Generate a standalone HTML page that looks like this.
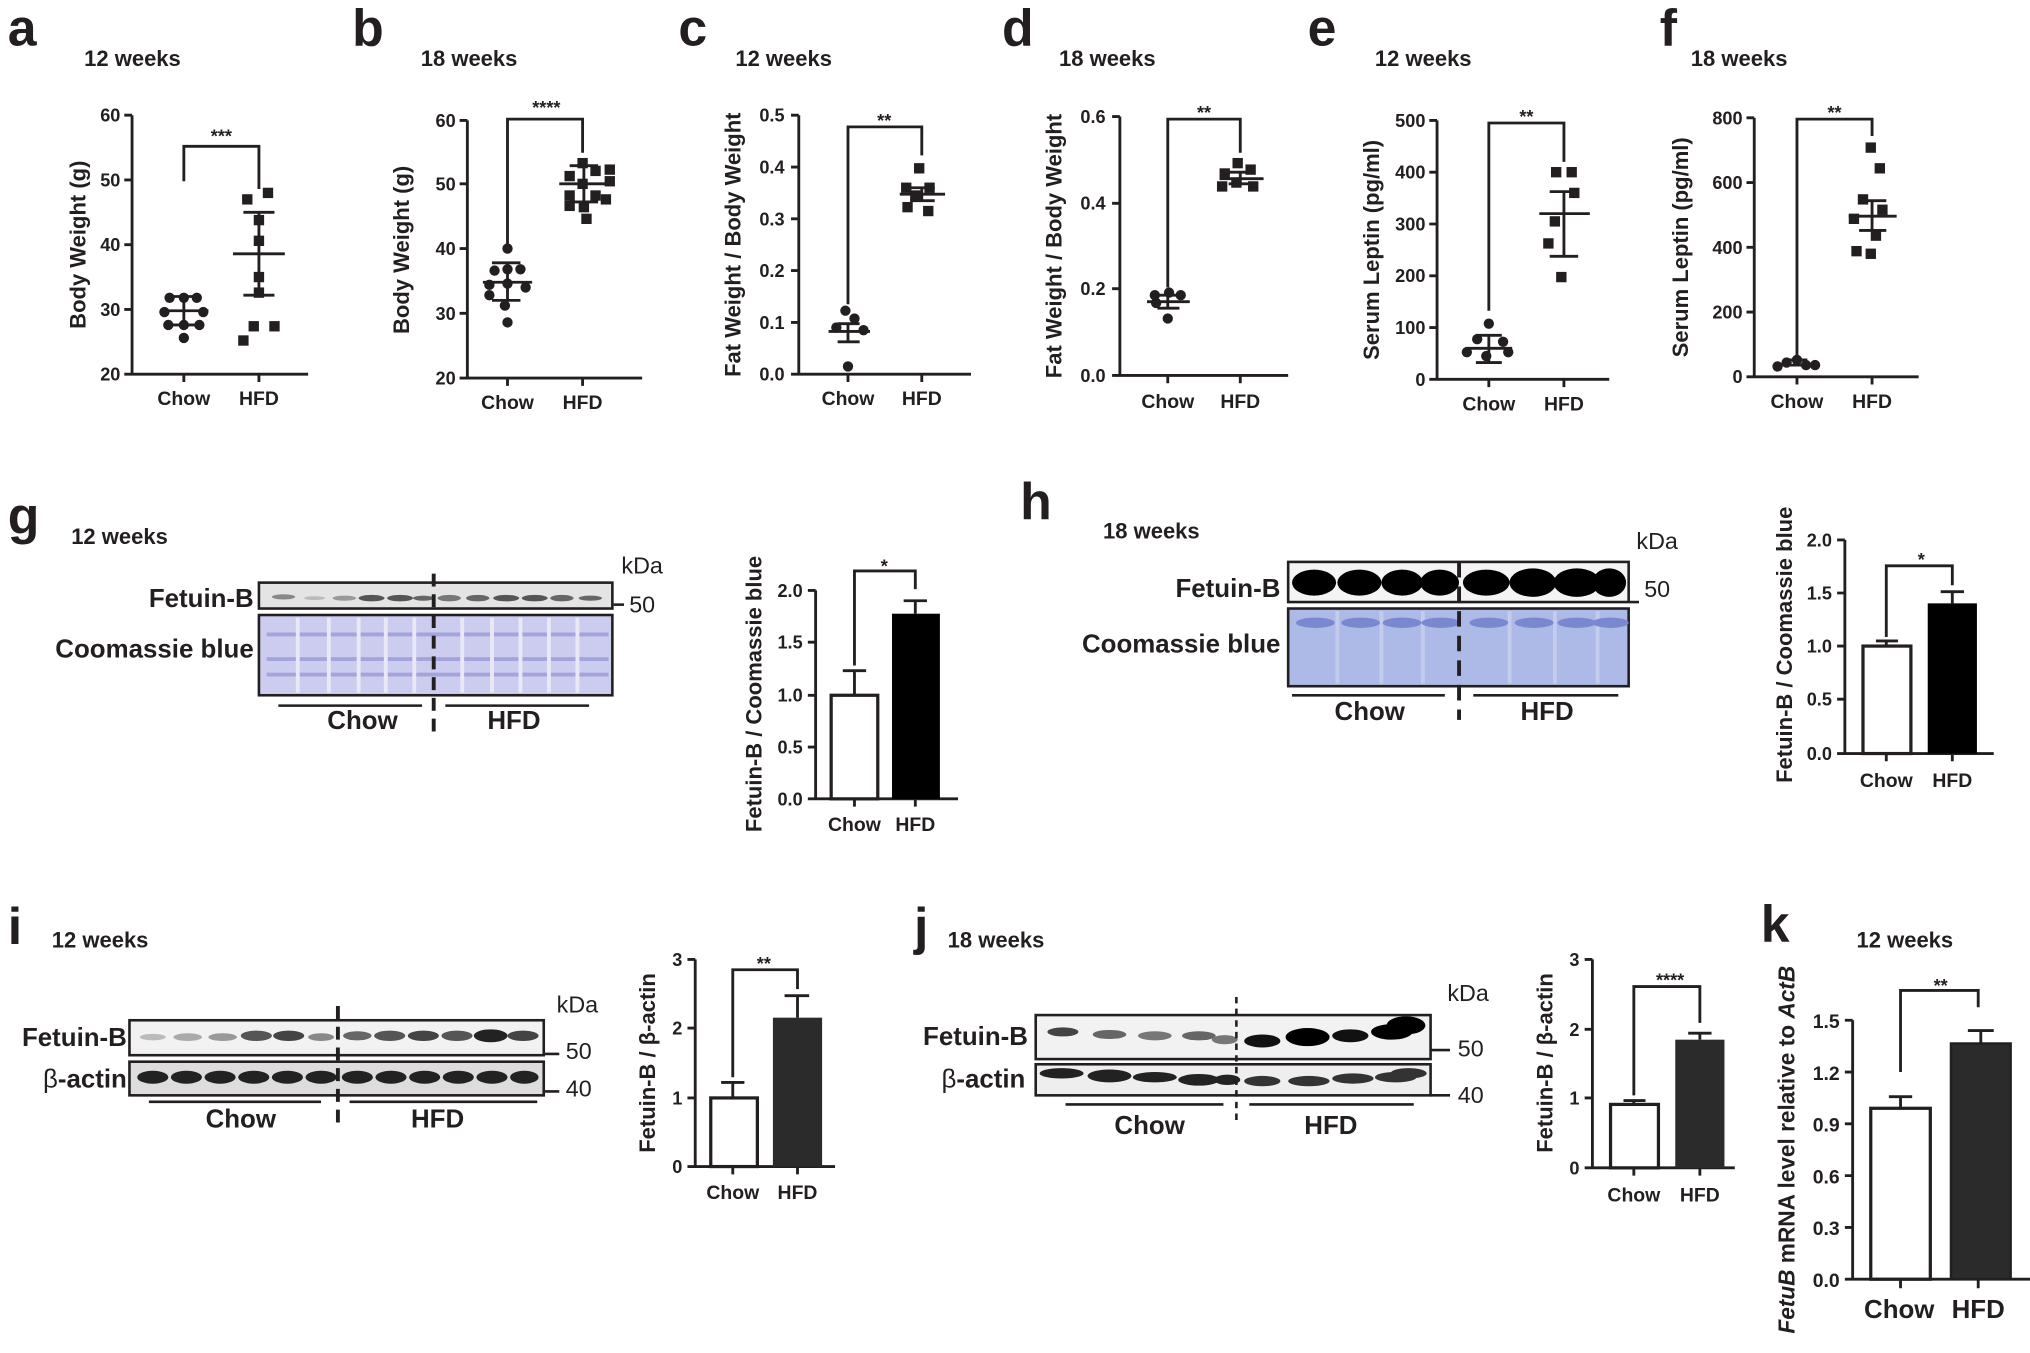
<!DOCTYPE html>
<html><head><meta charset="utf-8"><style>
html,body{margin:0;padding:0;background:#fff;}
svg{display:block}
text{font-family:"Liberation Sans",Arial,sans-serif;fill:#231f20;font-weight:bold}
.t{font-size:14px;text-anchor:end}
.x{font-size:15px;text-anchor:middle}
.yl{font-size:17px;text-anchor:middle}
.ti{font-size:17px}
.L{font-size:40px}
.ax{stroke:#231f20;stroke-width:2.2;fill:none}
.ln{stroke:#231f20;stroke-width:2;fill:none}
.bl{font-size:20px;text-anchor:end}
</style></head><body>
<svg width="2030" height="1353" viewBox="0 0 1568 1045" preserveAspectRatio="none" xmlns="http://www.w3.org/2000/svg">
<!-- ===== a ===== -->
<text class="L" x="6" y="35">a</text>
<text class="ti" x="65" y="51">12 weeks</text>
<path class="ax" d="M102 89V289H238M96 89H102M96 139H102M96 189H102M96 239H102M96 289H102M142 289V295M200 289V295"/>
<text class="t" x="93" y="94">60</text><text class="t" x="93" y="144">50</text><text class="t" x="93" y="194">40</text><text class="t" x="93" y="244">30</text><text class="t" x="93" y="294">20</text>
<text class="yl" transform="translate(66,189) rotate(-90)">Body Weight (g)</text>
<text class="x" x="142" y="313">Chow</text><text class="x" x="200" y="313">HFD</text>
<path class="ax" d="M142 140V113H200V146"/><text x="171" y="110" style="font-size:14px;text-anchor:middle">***</text>
<g fill="#231f20"><circle cx="131" cy="230" r="4"/><circle cx="142" cy="230" r="4"/><circle cx="152" cy="230" r="4"/><circle cx="127" cy="241" r="4"/><circle cx="157" cy="241" r="4"/><circle cx="130" cy="251" r="4"/><circle cx="142" cy="251" r="4"/><circle cx="154" cy="251" r="4"/><circle cx="142" cy="261" r="4"/>
<rect x="184" y="259" width="8" height="8"/><rect x="192" y="248" width="8" height="8"/><rect x="208" y="248" width="8" height="8"/><rect x="196" y="222" width="8" height="8"/><rect x="196" y="210" width="8" height="8"/><rect x="196" y="182" width="8" height="8"/><rect x="196" y="166" width="8" height="8"/><rect x="187" y="150" width="8" height="8"/><rect x="203" y="145" width="8" height="8"/></g>
<path class="ax" d="M124 240H161M131 229H153M131 251H153M142 229V251M180 196H220M188 164H212M188 228H212M200 164V228"/>
<!-- ===== b ===== -->
<text class="L" x="272" y="35">b</text>
<text class="ti" x="325" y="51">18 weeks</text>
<path class="ax" d="M361 93V292H496M355 93H361M355 142H361M355 192H361M355 242H361M355 292H361M392 292V298M450 292V298"/>
<text class="t" x="352" y="98">60</text><text class="t" x="352" y="147">50</text><text class="t" x="352" y="197">40</text><text class="t" x="352" y="247">30</text><text class="t" x="352" y="297">20</text>
<text class="yl" transform="translate(316,193) rotate(-90)">Body Weight (g)</text>
<text class="x" x="392" y="316">Chow</text><text class="x" x="450" y="316">HFD</text>
<path class="ax" d="M392 191V92H450V118"/><text x="422" y="88" style="font-size:14px;text-anchor:middle">****</text>
<g fill="#231f20"><circle cx="392" cy="192" r="4"/><circle cx="382" cy="209" r="4"/><circle cx="392" cy="208" r="4"/><circle cx="402" cy="208" r="4"/><circle cx="378" cy="220" r="4"/><circle cx="392" cy="219" r="4"/><circle cx="406" cy="222" r="4"/><circle cx="378" cy="228" r="4"/><circle cx="390" cy="236" r="4"/><circle cx="392" cy="249" r="4"/>
<rect x="446" y="122" width="8" height="8"/><rect x="456" y="128" width="8" height="8"/><rect x="467" y="127" width="8" height="8"/><rect x="436" y="132" width="8" height="8"/><rect x="467" y="136" width="8" height="8"/><rect x="446" y="138" width="8" height="8"/><rect x="436" y="147" width="8" height="8"/><rect x="456" y="147" width="8" height="8"/><rect x="464" y="150" width="8" height="8"/><rect x="436" y="155" width="8" height="8"/><rect x="447" y="156" width="8" height="8"/><rect x="449" y="165" width="8" height="8"/></g>
<path class="ax" d="M373 218H411M380 203H402M380 232H402M392 203V232M432 142H470M440 128H462M440 156H462M451 128V156"/>
<!-- ===== c ===== -->
<text class="L" x="524" y="35">c</text>
<text class="ti" x="568" y="51">12 weeks</text>
<path class="ax" d="M617 89V289H750M611 89H617M611 129H617M611 169H617M611 209H617M611 249H617M611 289H617M655 289V295M712 289V295"/>
<text class="t" x="606" y="94">0.5</text><text class="t" x="606" y="134">0.4</text><text class="t" x="606" y="174">0.3</text><text class="t" x="606" y="214">0.2</text><text class="t" x="606" y="254">0.1</text><text class="t" x="606" y="294">0.0</text>
<text class="yl" transform="translate(572,189) rotate(-90)">Fat Weight / Body Weight</text>
<text class="x" x="655" y="313">Chow</text><text class="x" x="712" y="313">HFD</text>
<path class="ax" d="M655 235V98H712V120"/><text x="683" y="98" style="font-size:14px;text-anchor:middle">**</text>
<g fill="#231f20"><circle cx="653" cy="240" r="4"/><circle cx="660" cy="246" r="4"/><circle cx="646" cy="253" r="4"/><circle cx="667" cy="255" r="4"/><circle cx="655" cy="283" r="4"/>
<rect x="706" y="126" width="8" height="8"/><rect x="696" y="141" width="8" height="8"/><rect x="714" y="141" width="8" height="8"/><rect x="703" y="147" width="8" height="8"/><rect x="697" y="156" width="8" height="8"/><rect x="713" y="159" width="8" height="8"/></g>
<path class="ax" d="M640 256H672M647 250H664M647 264H664M655 250V264M695 150H730M703 145H722M703 155H722M712 145V155"/>
<!-- ===== d ===== -->
<text class="L" x="774" y="35">d</text>
<text class="ti" x="818" y="51">18 weeks</text>
<path class="ax" d="M865 90V290H995M859 90H865M859 157H865M859 223H865M859 290H865M902 290V296M958 290V296"/>
<text class="t" x="854" y="95">0.6</text><text class="t" x="854" y="162">0.4</text><text class="t" x="854" y="228">0.2</text><text class="t" x="854" y="295">0.0</text>
<text class="yl" transform="translate(820,190) rotate(-90)">Fat Weight / Body Weight</text>
<text class="x" x="902" y="315">Chow</text><text class="x" x="958" y="315">HFD</text>
<path class="ax" d="M902 222V92H958V118"/><text x="930" y="92" style="font-size:14px;text-anchor:middle">**</text>
<g fill="#231f20"><circle cx="892" cy="228" r="4"/><circle cx="903" cy="226" r="4"/><circle cx="912" cy="228" r="4"/><circle cx="893" cy="234" r="4"/><circle cx="902" cy="246" r="4"/>
<rect x="952" y="122" width="8" height="8"/><rect x="962" y="127" width="8" height="8"/><rect x="942" y="130" width="8" height="8"/><rect x="951" y="137" width="8" height="8"/><rect x="940" y="140" width="8" height="8"/><rect x="964" y="140" width="8" height="8"/></g>
<path class="ax" d="M886 233H919M894 228H911M894 238H911M902 228V238M942 138H976M949 133H968M949 142H968M958 133V142"/>
<!-- ===== e ===== -->
<text class="L" x="1010" y="35">e</text>
<text class="ti" x="1062" y="51">12 weeks</text>
<path class="ax" d="M1110 93V293H1243M1104 93H1110M1104 133H1110M1104 173H1110M1104 213H1110M1104 253H1110M1104 293H1110M1150 293V299M1208 293V299"/>
<text class="t" x="1101" y="98">500</text><text class="t" x="1101" y="138">400</text><text class="t" x="1101" y="178">300</text><text class="t" x="1101" y="218">200</text><text class="t" x="1101" y="258">100</text><text class="t" x="1101" y="298">0</text>
<text class="yl" transform="translate(1065,193) rotate(-90)">Serum Leptin (pg/ml)</text>
<text class="x" x="1150" y="317">Chow</text><text class="x" x="1208" y="317">HFD</text>
<path class="ax" d="M1150 240V95H1208V125"/><text x="1179" y="95" style="font-size:14px;text-anchor:middle">**</text>
<g fill="#231f20"><circle cx="1150" cy="250" r="4"/><circle cx="1141" cy="262" r="4"/><circle cx="1161" cy="264" r="4"/><circle cx="1133" cy="272" r="4"/><circle cx="1148" cy="275" r="4"/><circle cx="1165" cy="272" r="4"/>
<rect x="1198" y="129" width="8" height="8"/><rect x="1210" y="129" width="8" height="8"/><rect x="1212" y="145" width="8" height="8"/><rect x="1197" y="167" width="8" height="8"/><rect x="1192" y="184" width="8" height="8"/><rect x="1202" y="210" width="8" height="8"/></g>
<path class="ax" d="M1132 269H1168M1140 259H1160M1140 280H1160M1150 259V280M1189 165H1228M1197 148H1219M1197 198H1219M1208 148V198"/>
<!-- ===== f ===== -->
<text class="L" x="1282" y="35">f</text>
<text class="ti" x="1306" y="51">18 weeks</text>
<path class="ax" d="M1355 91V291H1482M1349 91H1355M1349 141H1355M1349 191H1355M1349 241H1355M1349 291H1355M1388 291V297M1446 291V297"/>
<text class="t" x="1346" y="96">800</text><text class="t" x="1346" y="146">600</text><text class="t" x="1346" y="196">400</text><text class="t" x="1346" y="246">200</text><text class="t" x="1346" y="296">0</text>
<text class="yl" transform="translate(1304,191) rotate(-90)">Serum Leptin (pg/ml)</text>
<text class="x" x="1388" y="315">Chow</text><text class="x" x="1446" y="315">HFD</text>
<path class="ax" d="M1388 275V92H1446V105"/><text x="1417" y="92" style="font-size:14px;text-anchor:middle">**</text>
<g fill="#231f20"><circle cx="1380" cy="280" r="4"/><circle cx="1388" cy="278" r="4"/><circle cx="1395" cy="282" r="4"/><circle cx="1402" cy="282" r="4"/><circle cx="1373" cy="283" r="4"/>
<rect x="1441" y="110" width="8" height="8"/><rect x="1448" y="126" width="8" height="8"/><rect x="1435" y="150" width="8" height="8"/><rect x="1450" y="158" width="8" height="8"/><rect x="1428" y="165" width="8" height="8"/><rect x="1445" y="178" width="8" height="8"/><rect x="1430" y="190" width="8" height="8"/><rect x="1441" y="192" width="8" height="8"/></g>
<path class="ax" d="M1374 282H1402M1381 278H1396M1428 167H1465M1436 155H1457M1436 178H1457M1446 155V178"/>

<!-- ===== g ===== -->
<text class="L" x="6" y="412">g</text>
<text class="ti" x="55" y="420">12 weeks</text>
<rect x="200" y="450" width="273" height="20" fill="#e4e4e4" stroke="#231f20" stroke-width="2"/>
<g><ellipse cx="219" cy="461" rx="9" ry="2" fill="#888"/><ellipse cx="243" cy="462" rx="8" ry="1.5" fill="#bbb"/><ellipse cx="266" cy="462" rx="9" ry="2" fill="#999"/><ellipse cx="287" cy="462" rx="10" ry="2.5" fill="#555"/><ellipse cx="309" cy="462" rx="10" ry="2.5" fill="#555"/><ellipse cx="327" cy="462" rx="8" ry="2" fill="#666"/><ellipse cx="347" cy="462" rx="9" ry="2.5" fill="#777"/><ellipse cx="369" cy="462" rx="9" ry="2.5" fill="#666"/><ellipse cx="391" cy="462" rx="10" ry="2.5" fill="#555"/><ellipse cx="413" cy="462" rx="10" ry="2.5" fill="#555"/><ellipse cx="434" cy="462" rx="9" ry="2.5" fill="#666"/><ellipse cx="456" cy="462" rx="9" ry="2" fill="#666"/></g>
<rect x="200" y="475" width="273" height="62" fill="#ccccee" stroke="#231f20" stroke-width="2"/>
<g stroke="#a4a4dc" stroke-width="3"><path d="M206 490H470M206 509H470M206 521H470"/></g>
<g stroke="#e8e8f6" stroke-width="3"><path d="M230 477V535M254 477V535M277 477V535M298 477V535M320 477V535M357 477V535M380 477V535M402 477V535M424 477V535M446 477V535"/></g>
<path d="M335 443V565" stroke="#231f20" stroke-width="3" stroke-dasharray="10,6"/>
<text class="bl" x="196" y="469">Fetuin-B</text>
<text class="bl" x="196" y="508">Coomassie blue</text>
<text x="480" y="443" style="font-size:18px;font-weight:normal">kDa</text>
<path class="ln" d="M474 467H482"/><text x="486" y="473" style="font-size:18px;font-weight:normal">50</text>
<path class="ln" d="M215 545H326M344 545H455"/>
<text x="280" y="563" style="font-size:20px;text-anchor:middle">Chow</text><text x="397" y="563" style="font-size:20px;text-anchor:middle">HFD</text>
<!-- g bar -->
<path class="ax" d="M630 456V617H740M624 456H630M624 496H630M624 537H630M624 577H630M624 617H630M660 617V623M707 617V623"/>
<text class="t" x="620" y="461">2.0</text><text class="t" x="620" y="501">1.5</text><text class="t" x="620" y="542">1.0</text><text class="t" x="620" y="582">0.5</text><text class="t" x="620" y="622">0.0</text>
<text class="yl" transform="translate(588,536) rotate(-90)">Fetuin-B / Coomassie blue</text>
<rect x="642" y="537" width="36" height="80" fill="#fff" stroke="#231f20" stroke-width="2.5"/>
<rect x="689" y="474" width="37" height="143" fill="#000"/>
<path class="ax" d="M660 537V518M651 518H669M707 474V464M698 464H716"/>
<path class="ax" d="M660 514V441H707V455"/><text x="683" y="442" style="font-size:14px;text-anchor:middle">*</text>
<text class="x" x="660" y="642">Chow</text><text class="x" x="707" y="642">HFD</text>

<!-- ===== h ===== -->
<text class="L" x="788" y="401">h</text>
<text class="ti" x="852" y="416">18 weeks</text>
<rect x="995" y="434" width="263" height="31" fill="#f4f4f4" stroke="#231f20" stroke-width="2"/>
<g fill="#000"><ellipse cx="1015" cy="450" rx="17" ry="10"/><ellipse cx="1050" cy="450" rx="17" ry="10"/><ellipse cx="1083" cy="450" rx="16" ry="10"/><ellipse cx="1112" cy="450" rx="15" ry="10"/><ellipse cx="1148" cy="450" rx="18" ry="10"/><ellipse cx="1184" cy="450" rx="18" ry="11"/><ellipse cx="1218" cy="450" rx="18" ry="11"/><ellipse cx="1243" cy="450" rx="13" ry="11"/></g>
<rect x="995" y="470" width="263" height="60" fill="#adb9e6" stroke="#231f20" stroke-width="2"/>
<g stroke="#c4ccee" stroke-width="3"><path d="M1033 472V528M1067 472V528M1099 472V528M1166 472V528M1201 472V528M1234 472V528"/></g>
<g fill="#7a88d0"><ellipse cx="1016" cy="481" rx="15" ry="4"/><ellipse cx="1051" cy="481" rx="15" ry="4"/><ellipse cx="1083" cy="481" rx="15" ry="4"/><ellipse cx="1113" cy="481" rx="15" ry="4"/><ellipse cx="1150" cy="481" rx="15" ry="4"/><ellipse cx="1185" cy="481" rx="15" ry="4"/><ellipse cx="1218" cy="481" rx="15" ry="4"/><ellipse cx="1244" cy="481" rx="14" ry="4"/></g>
<path d="M1127 434V556" stroke="#231f20" stroke-width="3" stroke-dasharray="12,7"/>
<text class="bl" x="989" y="461">Fetuin-B</text>
<text class="bl" x="989" y="504">Coomassie blue</text>
<text x="1264" y="424" style="font-size:18px;font-weight:normal">kDa</text>
<path class="ln" d="M1259 465H1266"/><text x="1270" y="461" style="font-size:18px;font-weight:normal">50</text>
<path class="ln" d="M998 537H1116M1138 537H1250"/>
<text x="1058" y="556" style="font-size:20px;text-anchor:middle">Chow</text><text x="1195" y="556" style="font-size:20px;text-anchor:middle">HFD</text>
<!-- h bar -->
<path class="ax" d="M1425 417V582H1540M1419 417H1425M1419 458H1425M1419 499H1425M1419 540H1425M1419 582H1425M1457 582V588M1508 582V588"/>
<text class="t" x="1415" y="422">2.0</text><text class="t" x="1415" y="463">1.5</text><text class="t" x="1415" y="504">1.0</text><text class="t" x="1415" y="545">0.5</text><text class="t" x="1415" y="587">0.0</text>
<text class="yl" transform="translate(1384,498) rotate(-90)">Fetuin-B / Coomassie blue</text>
<rect x="1439" y="499" width="37" height="83" fill="#fff" stroke="#231f20" stroke-width="2.5"/>
<rect x="1489" y="466" width="38" height="116" fill="#000"/>
<path class="ax" d="M1457 499V495M1449 495H1466M1508 466V457M1499 457H1517"/>
<path class="ax" d="M1457 492V437H1508V452"/><text x="1484" y="437" style="font-size:14px;text-anchor:middle">*</text>
<text class="x" x="1457" y="608">Chow</text><text class="x" x="1508" y="608">HFD</text>

<!-- ===== i ===== -->
<text class="L" x="6" y="729">i</text>
<text class="ti" x="40" y="732">12 weeks</text>
<rect x="100" y="788" width="320" height="27" fill="#f2f2f2" stroke="#231f20" stroke-width="2"/>
<g><ellipse cx="118" cy="801" rx="10" ry="2.5" fill="#bbb"/><ellipse cx="145" cy="801" rx="11" ry="3" fill="#aaa"/><ellipse cx="172" cy="801" rx="11" ry="3" fill="#999"/><ellipse cx="198" cy="800" rx="12" ry="4" fill="#555"/><ellipse cx="223" cy="800" rx="12" ry="4" fill="#444"/><ellipse cx="248" cy="801" rx="10" ry="3" fill="#888"/><ellipse cx="276" cy="800" rx="11" ry="3.5" fill="#666"/><ellipse cx="301" cy="800" rx="12" ry="4" fill="#555"/><ellipse cx="327" cy="800" rx="12" ry="4" fill="#444"/><ellipse cx="353" cy="800" rx="12" ry="4" fill="#555"/><ellipse cx="379" cy="800" rx="13" ry="5" fill="#222"/><ellipse cx="404" cy="800" rx="12" ry="4" fill="#444"/></g>
<rect x="100" y="820" width="320" height="26" fill="#ddd" stroke="#231f20" stroke-width="2"/>
<g fill="#222"><ellipse cx="118" cy="832" rx="12" ry="5"/><ellipse cx="144" cy="832" rx="12" ry="5"/><ellipse cx="170" cy="832" rx="12" ry="5"/><ellipse cx="196" cy="832" rx="12" ry="5"/><ellipse cx="222" cy="832" rx="12" ry="5"/><ellipse cx="248" cy="832" rx="12" ry="5"/><ellipse cx="276" cy="832" rx="12" ry="5"/><ellipse cx="302" cy="832" rx="12" ry="5"/><ellipse cx="328" cy="832" rx="12" ry="5"/><ellipse cx="354" cy="832" rx="12" ry="5"/><ellipse cx="380" cy="832" rx="12" ry="5"/><ellipse cx="405" cy="832" rx="11" ry="5"/></g>
<path d="M261 777V870" stroke="#231f20" stroke-width="3" stroke-dasharray="10,6"/>
<text class="bl" x="98" y="808">Fetuin-B</text>
<text class="bl" x="98" y="840" style="font-weight:normal">β<tspan style="font-weight:bold">-actin</tspan></text>
<text x="430" y="782" style="font-size:18px;font-weight:normal">kDa</text>
<path class="ln" d="M421 814H432M421 843H432"/><text x="437" y="818" style="font-size:18px;font-weight:normal">50</text><text x="437" y="847" style="font-size:18px;font-weight:normal">40</text>
<path class="ln" d="M115 851H248M270 851H415"/>
<text x="186" y="871" style="font-size:20px;text-anchor:middle">Chow</text><text x="338" y="871" style="font-size:20px;text-anchor:middle">HFD</text>
<!-- i bar -->
<path class="ax" d="M537 741V901H645M531 741H537M531 794H537M531 848H537M531 901H537M566 901V907M616 901V907"/>
<text class="t" x="527" y="746">3</text><text class="t" x="527" y="799">2</text><text class="t" x="527" y="853">1</text><text class="t" x="527" y="906">0</text>
<text class="yl" transform="translate(506,821) rotate(-90)">Fetuin-B / β-actin</text>
<rect x="549" y="848" width="36" height="53" fill="#fff" stroke="#231f20" stroke-width="2.5"/>
<rect x="597" y="786" width="38" height="115" fill="#2b2b2b"/>
<path class="ax" d="M566 848V836M557 836H575M616 786V769M606 769H625"/>
<path class="ax" d="M566 832V749H616V764"/><text x="590" y="749" style="font-size:14px;text-anchor:middle">**</text>
<text class="x" x="566" y="926">Chow</text><text class="x" x="616" y="926">HFD</text>

<!-- ===== j ===== -->
<text class="L" x="706" y="729">j</text>
<text class="ti" x="732" y="732">18 weeks</text>
<rect x="800" y="784" width="305" height="34" fill="#f2f2f2" stroke="#231f20" stroke-width="2"/>
<g><ellipse cx="821" cy="797" rx="12" ry="3.5" fill="#444"/><ellipse cx="857" cy="799" rx="13" ry="3.5" fill="#666"/><ellipse cx="892" cy="800" rx="13" ry="3.5" fill="#777"/><ellipse cx="926" cy="800" rx="13" ry="3.5" fill="#666"/><ellipse cx="946" cy="803" rx="10" ry="3.5" fill="#777"/><ellipse cx="975" cy="804" rx="14" ry="5" fill="#111"/><ellipse cx="1010" cy="801" rx="17" ry="7" fill="#000"/><ellipse cx="1043" cy="800" rx="14" ry="5" fill="#111"/><ellipse cx="1075" cy="797" rx="16" ry="6" fill="#000"/><ellipse cx="1086" cy="792" rx="15" ry="7" fill="#000"/></g>
<rect x="800" y="822" width="305" height="24" fill="#eee" stroke="#231f20" stroke-width="2"/>
<g fill="#222"><ellipse cx="820" cy="829" rx="17" ry="4"/><ellipse cx="857" cy="831" rx="17" ry="5"/><ellipse cx="892" cy="832" rx="17" ry="4"/><ellipse cx="926" cy="834" rx="16" ry="4.5"/><ellipse cx="948" cy="834" rx="10" ry="4"/><ellipse cx="975" cy="835" rx="14" ry="4" fill="#333"/><ellipse cx="1011" cy="835" rx="16" ry="4" fill="#333"/><ellipse cx="1045" cy="833" rx="16" ry="4" fill="#333"/><ellipse cx="1078" cy="832" rx="16" ry="4" fill="#333"/><ellipse cx="1088" cy="829" rx="14" ry="4" fill="#333"/></g>
<path d="M955 770V868" stroke="#231f20" stroke-width="2" stroke-dasharray="5,4"/>
<text class="bl" x="794" y="807">Fetuin-B</text>
<text class="bl" x="792" y="840" style="font-weight:normal">β<tspan style="font-weight:bold">-actin</tspan></text>
<text x="1118" y="773" style="font-size:18px;font-weight:normal">kDa</text>
<path class="ln" d="M1105 811H1120M1105 846H1120"/><text x="1126" y="816" style="font-size:18px;font-weight:normal">50</text><text x="1126" y="852" style="font-size:18px;font-weight:normal">40</text>
<path class="ln" d="M823 853H945M965 853H1092"/>
<text x="888" y="876" style="font-size:20px;text-anchor:middle">Chow</text><text x="1028" y="876" style="font-size:20px;text-anchor:middle">HFD</text>
<!-- j bar -->
<path class="ax" d="M1230 741V902H1340M1224 741H1230M1224 795H1230M1224 848H1230M1224 902H1230M1262 902V908M1313 902V908"/>
<text class="t" x="1220" y="746">3</text><text class="t" x="1220" y="800">2</text><text class="t" x="1220" y="853">1</text><text class="t" x="1220" y="907">0</text>
<text class="yl" transform="translate(1199,821) rotate(-90)">Fetuin-B / β-actin</text>
<rect x="1244" y="853" width="37" height="49" fill="#fff" stroke="#231f20" stroke-width="2.5"/>
<rect x="1294" y="803" width="38" height="99" fill="#2b2b2b"/>
<path class="ax" d="M1262 853V850M1254 850H1271M1313 803V798M1304 798H1322"/>
<path class="ax" d="M1262 846V762H1313V790"/><text x="1290" y="762" style="font-size:14px;text-anchor:middle">****</text>
<text class="x" x="1262" y="928">Chow</text><text class="x" x="1313" y="928">HFD</text>

<!-- ===== k ===== -->
<text class="L" x="1360" y="727">k</text>
<text class="ti" x="1434" y="732">12 weeks</text>
<path class="ax" d="M1431 788V988H1568M1425 788H1431M1425 828H1431M1425 868H1431M1425 908H1431M1425 948H1431M1425 988H1431M1468 988V995M1528 988V995"/>
<g style="font-size:15px"><text class="t" x="1421" y="794" style="font-size:15px">1.5</text><text class="t" x="1421" y="834" style="font-size:15px">1.2</text><text class="t" x="1421" y="874" style="font-size:15px">0.9</text><text class="t" x="1421" y="914" style="font-size:15px">0.6</text><text class="t" x="1421" y="954" style="font-size:15px">0.3</text><text class="t" x="1421" y="994" style="font-size:15px">0.0</text></g>
<text class="yl" transform="translate(1386,888) rotate(-90)" style="font-size:17.5px"><tspan font-style="italic">FetuB</tspan> mRNA level relative to <tspan font-style="italic">ActB</tspan></text>
<rect x="1445" y="856" width="46" height="132" fill="#fff" stroke="#231f20" stroke-width="2.5"/>
<rect x="1507" y="806" width="46" height="182" fill="#2b2b2b" stroke="#231f20" stroke-width="2"/>
<path class="ax" d="M1468 856V847M1459 847H1477M1530 806V796M1520 796H1540"/>
<path class="ax" d="M1468 828V765H1528V778"/><text x="1499" y="766" style="font-size:14px;text-anchor:middle">**</text>
<text x="1467" y="1018" style="font-size:20px;text-anchor:middle">Chow</text><text x="1528" y="1018" style="font-size:20px;text-anchor:middle">HFD</text>
</svg>
</body></html>
